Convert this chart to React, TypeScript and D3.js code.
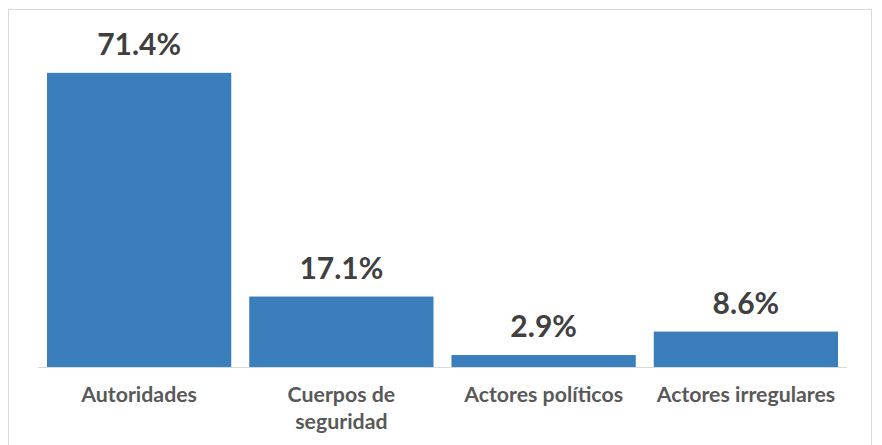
import React from "react";
import * as d3 from "d3";

const categories: string[][] = [
  ["Autoridades"],
  ["Cuerpos de", "seguridad"],
  ["Actores políticos"],
  ["Actores irregulares"],
];
const values: number[] = [71.4, 17.1, 2.9, 8.6];
const valueLabels: string[] = ["71.4%", "17.1%", "2.9%", "8.6%"];

const W = 882;
const H = 445;

export default function App() {
  const x = d3
    .scaleBand<number>()
    .domain(values.map((_, i) => i))
    .range([38, 847])
    .paddingInner(0.089)
    .paddingOuter(0.0445);
  const baseY = 367;
  const y = d3.scaleLinear().domain([0, 80]).range([baseY, baseY - 329.6]);
  const font = "Lato, 'Noto Sans', sans-serif";

  return (
    <svg
      width={W}
      height={H}
      style={{ position: "absolute", left: 0, top: 0, background: "#fff" }}
    >
      <rect x={8.5} y={9.5} width={863} height={450} fill="#fff" stroke="#d9d9d9" strokeWidth={1} />
      {values.map((v, i) => (
        <rect
          key={i}
          x={x(i)}
          y={y(v)}
          width={x.bandwidth()}
          height={y(0) - y(v)}
          fill="#3a7ebb"
        />
      ))}
      <line x1={38} x2={847} y1={baseY + 0.5} y2={baseY + 0.5} stroke="#d9d9d9" strokeWidth={1} />
      {values.map((v, i) => (
        <text
          key={"v" + i}
          x={(x(i) as number) + x.bandwidth() / 2}
          y={y(v) - 18}
          textAnchor="middle"
          fontFamily={font}
          fontWeight={700}
          fontSize={30}
          fill="#404040"
        >
          {valueLabels[i]}
        </text>
      ))}
      {categories.map((lines, i) =>
        lines.map((ln, j) => (
          <text
            key={"c" + i + "-" + j}
            x={(x(i) as number) + x.bandwidth() / 2}
            y={402 + j * 26.5}
            textAnchor="middle"
            fontFamily={font}
            fontWeight={700}
            fontSize={21.3}
            fill="#595959"
          >
            {ln}
          </text>
        ))
      )}
    </svg>
  );
}
